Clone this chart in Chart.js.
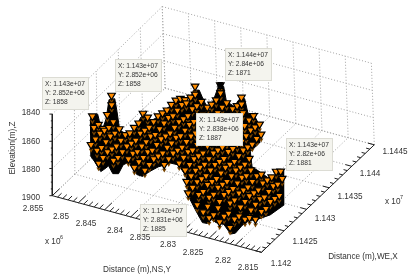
<!DOCTYPE html>
<html><head><meta charset="utf-8">
<style>html,body{margin:0;padding:0;background:#fff}#w{width:412px;height:280px}</style>
<script src="https://cdn.jsdelivr.net/npm/chart.js@4"></script>
</head><body><div id="w"><canvas id="c" width="412" height="280"></canvas></div>
<script>
const weValues=[1.1420,1.1421,1.1422,1.1423,1.1424,1.1425,1.1426,1.1427,1.1428,1.1429,1.1430,1.1431,1.1432,1.1433,1.1434,1.1435,1.1436,1.1437,1.1438,1.1439];
const nsValues=[2.855,2.853,2.851,2.849,2.847,2.845,2.843,2.841,2.839,2.837,2.835,2.833,2.831,2.829,2.827,2.825,2.823,2.821,2.819,2.817,2.815];
const elevStart=[9,7,4,3,1,2,3,2,2,4,5,4,2,0,0,0,0,0,0,0,0];
const elevRows=[
[1870],
[1870,1871,1877,1870,1859],
[1871,1870,1869,1870,1871,1870],
[1870,1871,1870,1869,1870,1870],
[1871,1870,1869,1870,1871,1870,1869,1871,1870,1870,1866,1872],
[1870,1871,1870,1869,1870,1871,1869,1870,1871,1870,1869,1870,1871,1870,1870,1872,1876],
[1870,1869,1871,1870,1870,1869,1871,1870,1869,1868,1870,1869,1868,1870,1869,1864],
[1871,1870,1870,1869,1871,1870,1869,1870,1871,1870,1869,1870,1871,1869,1870,1870],
[1871,1870,1869,1870,1871,1870,1870,1869,1871,1870,1869,1870,1870,1871,1869,1870,1870,1862],
[1871,1870,1869,1870,1871,1870,1869,1870,1870,1871,1869,1870,1871,1870,1870],
[1871,1870,1869,1871,1870,1869,1870,1871,1870,1869,1870,1871,1869,1870,1867],
[1871,1870,1869,1870,1871,1869,1870,1870,1871,1869,1870,1871,1870,1870],
[1871,1870,1869,1870,1871,1870,1869,1870,1871,1870,1869,1870,1870,1871,1870,1870],
[1871,1870,1869,1870,1871,1870,1869,1870,1871,1869,1870,1870,1871,1870,1869,1870,1871],
[1870,1871,1869,1870,1871,1870,1869,1870,1871,1870,1869,1870,1871,1870,1870],
[1870,1871,1869,1870,1871,1870,1869,1870,1871,1870],
[1871,1869,1870,1871,1870,1869,1871,1870],
[1870,1871,1869,1870,1871,1870,1869,1871],
[1871,1870,1869,1870,1871,1869,1870,1871,1870,1873],
[1871,1870,1869,1871,1870,1869,1871,1870],
[1870,1871,1869,1870,1871]];
const extraNS=[2.829,2.827,2.827,2.825,2.825,2.825,2.823,2.823,2.823,2.821,2.821,2.821,2.819,2.819,2.817,2.853,2.839,2.835,2.843];
const extraWE=[1.1422,1.1421,1.1422,1.1420,1.1421,1.1422,1.1420,1.1421,1.1422,1.1420,1.1421,1.1422,1.1421,1.1422,1.1421,1.1431,1.1439,1.1439,1.1438];
const extraZ=[1886,1886,1885,1885,1886,1884,1886,1885,1886,1888,1885,1886,1883,1885,1881,1866,1868,1872,1870];
const selectedNS=[2.839],selectedWE=[1.1439],selectedZ=[1862];
const outlineWE=1.1426;
const outlineNS=[2.8529,2.8525,2.8514,2.8511,2.8505,2.8498,2.8492,2.8481,2.8477,2.8472,2.8458,2.8445,2.8431,2.8419,2.8412,2.8399,2.8384,2.8365,2.8351,2.8338,2.8330,2.8319,2.8312,2.8300,2.8286,2.8282,2.8272,2.8267,2.8252,2.8243,2.8232,2.8226,2.8215,2.8204,2.8204,2.8222,2.8219,2.8207,2.8189,2.8172,2.8172,2.8159,2.8159,2.8185,2.8211,2.8226,2.8239,2.8252,2.8261,2.8274,2.8289,2.8297,2.8306,2.8315,2.8328,2.8341,2.8345,2.8360,2.8375,2.8399,2.8416,2.8429,2.8440,2.8455,2.8466,2.8475,2.8486,2.8494,2.8501,2.8509,2.8520,2.8529];
const outlineZ=[1861.7,1857.2,1855.3,1859.8,1865.6,1857.1,1842.3,1840.5,1849.3,1862.8,1864.3,1860.1,1848.7,1846.1,1849.5,1845.4,1838.2,1831.3,1827.7,1827.7,1818.5,1817.3,1822.9,1830.9,1815.2,1810.6,1809.7,1820.3,1822.3,1816.4,1814.5,1824.6,1824.1,1831.4,1844.1,1852.4,1863.3,1865,1868,1865.5,1861.3,1859.9,1885.3,1895.1,1901.3,1903.6,1908.5,1915.5,1917.1,1911.4,1911.6,1910.2,1914,1914.3,1906.5,1898,1883.6,1876.6,1876.8,1882.1,1887.4,1892.2,1892,1884.4,1887.6,1895,1896.1,1891.2,1894.1,1897,1891.2,1887.2];
const zTicks=[1840,1860,1880,1900];
const nsTicks=[2.855,2.85,2.845,2.84,2.835,2.83,2.825,2.82,2.815];
const weTicks=[1.142,1.1425,1.143,1.1435,1.144,1.1445];
const zLabels=['1840','1860','1880','1900'];
const nsLabels=['2.855','2.85','2.845','2.84','2.835','2.83','2.825','2.82','2.815'];
const weLabels=['1.142','1.1425','1.143','1.1435','1.144','1.1445'];
const tipText=[['X: 1.143e+07','Y: 2.852e+06','Z: 1858'],['X: 1.143e+07','Y: 2.852e+06','Z: 1858'],['X: 1.143e+07','Y: 2.838e+06','Z: 1887'],['X: 1.144e+07','Y: 2.84e+06','Z: 1871'],['X: 1.143e+07','Y: 2.82e+06','Z: 1881'],['X: 1.142e+07','Y: 2.831e+06','Z: 1885']];
const tipBox=[[42,77],[115,59],[196,113],[225,48],[286,138],[140,204]];

function P(X,Y,Z){
  const dX=X-1.142,dY=2.855-Y,up=1900-Z;
  return {x:48+dY*5375+dX*46400-up/60*3*(dX/0.0025),y:198+dY*1475-dX*44800-up*85/60};
}
const pts=[];
elevRows.forEach((row,j)=>row.forEach((z,i)=>pts.push([weValues[elevStart[j]+i],nsValues[j],z])));
extraNS.forEach((y,i)=>pts.push([extraWE[i],y,extraZ[i]]));
const marks=pts.map(p=>P(p[0],p[1],p[2]));
const deep=pts.map(p=>P(p[0],p[1],p[2]+4));
const outline=outlineNS.map((y,i)=>P(outlineWE,y,outlineZ[i]));

function seg(list,a,b){list.push(P(a[0],a[1],a[2]),P(b[0],b[1],b[2]),{x:NaN,y:NaN});}
const grid=[],axes=[];
const xA=1.142,xB=1.1445,yA=2.855,yB=2.815,zA=1840,zB=1900;
nsTicks.forEach(y=>{seg(grid,[xA,y,zB],[xB,y,zB]);seg(grid,[xB,y,zB],[xB,y,zA]);});
weTicks.forEach(x=>{seg(grid,[x,yB,zB],[x,yA,zB]);seg(grid,[x,yA,zB],[x,yA,zA]);});
zTicks.forEach(z=>{seg(grid,[xA,yA,z],[xB,yA,z]);seg(grid,[xB,yA,z],[xB,yB,z]);});
seg(axes,[xA,yA,zA],[xA,yA,zB]);seg(axes,[xA,yA,zB],[xA,yB,zB]);seg(axes,[xA,yB,zB],[xB,yB,zB]);
for(let i=0;i<=40;i++){const y=2.855-i*0.001,len=i%5==0?0.00016:0.00009;seg(axes,[xA,y,zB],[xA+len,y,zB]);}
for(let i=0;i<=25;i++){const x=1.142+i*0.0001,len=i%5==0?0.0012:0.0007;seg(axes,[x,yB,zB],[x,yB+len,zB]);}
for(let i=0;i<=12;i++){const z=1840+i*5;const p=P(xA,yA,z);axes.push({x:p.x-(i%4==0?3:1.5),y:p.y},{x:p.x,y:p.y},{x:NaN,y:NaN});}

const textPlugin={id:'txt',afterDatasetsDraw(ch){
  const c=ch.ctx;c.save();
  c.font='8.2px "Liberation Sans"';c.fillStyle='#333';c.textBaseline='middle';
  tipBox.forEach((b,i)=>{
    c.fillStyle='#f4f4ee';c.fillRect(b[0],b[1],47,33);
    c.strokeStyle='#dcdcd4';c.lineWidth=1;c.strokeRect(b[0]+.5,b[1]+.5,46,32);
    c.fillStyle='#333';c.font='6.7px "Liberation Sans"';c.textAlign='left';
    tipText[i].forEach((t,n)=>c.fillText(t,b[0]+3,b[1]+7+n*9.2));
  });
  c.font='8.2px "Liberation Sans"';c.fillStyle='#333';
  c.textAlign='right';zLabels.forEach((t,i)=>c.fillText(t,40,P(xA,yA,zTicks[i]).y));
  c.textAlign='center';
  const nsPos=[[33,209],[61,217],[86,224],[115,231],[140,238],[168,245],[193,253],[223,261],[248,268]];
  nsLabels.forEach((t,i)=>c.fillText(t,nsPos[i][0],nsPos[i][1]));
  const wePos=[[281,264],[305,242],[325,219],[350,197],[370,174],[395,152]];
  weLabels.forEach((t,i)=>c.fillText(t,wePos[i][0],wePos[i][1]));
  c.fillText('Distance (m),NS,Y',137,270);
  c.fillText('Distance (m),WE,X',363,257);
  c.textAlign='left';
  c.fillText('x 10',45,242);c.fillText('x 10',385,202);
  c.font='5.5px "Liberation Sans"';c.fillText('6',60,237);c.fillText('7',400,197);
  c.font='8.2px "Liberation Sans"';
  c.translate(13,148);c.rotate(-Math.PI/2);c.textAlign='center';c.fillText('Elevation(m),Z',0,0);
  c.restore();
}};

new Chart(document.getElementById('c'),{type:'scatter',plugins:[textPlugin],
 data:{datasets:[
  {label:'grid',data:grid,showLine:true,spanGaps:false,pointRadius:0,borderColor:'#a4a4a4',borderWidth:1,borderDash:[1,2],order:6},
  {label:'axes',data:axes,showLine:true,spanGaps:false,pointRadius:0,borderColor:'#222',borderWidth:1,order:5},
  {label:'mass',data:outline,showLine:true,fill:'shape',pointRadius:0,tension:0,borderWidth:1,borderColor:'#000',backgroundColor:'#000',order:4},
  {label:'deep',data:deep,pointStyle:'triangle',rotation:180,pointRadius:2.6,backgroundColor:'#7a4500',borderWidth:0,order:3},
  {label:'samples',data:marks,pointStyle:'triangle',rotation:180,pointRadius:4.4,backgroundColor:'#ff8c00',borderColor:'#000',borderWidth:1.2,order:2},
  {label:'selected',data:selectedNS.map((y,i)=>P(selectedWE[i],y,selectedZ[i])),pointStyle:'rect',pointRadius:3.4,backgroundColor:'#000',borderColor:'#000',order:1}
 ]},
 options:{responsive:false,animation:false,events:[],layout:{padding:0},
  plugins:{legend:{display:false},tooltip:{enabled:false},filler:{propagate:false}},
  scales:{x:{type:'linear',min:0,max:412,display:false},y:{type:'linear',min:0,max:280,reverse:true,display:false}}}
});
</script></body></html>
